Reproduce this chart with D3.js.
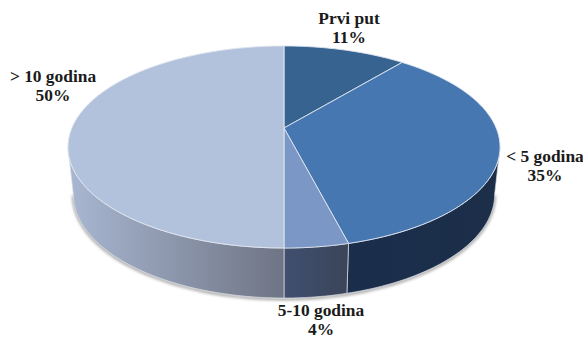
<!DOCTYPE html>
<html>
<head>
<meta charset="utf-8">
<script src="https://cdn.jsdelivr.net/npm/d3@7"></script>
<style>
html,body{margin:0;padding:0;background:#fff}
text{font-family:"Liberation Serif",serif;font-weight:700;fill:#1a1a1a;font-size:17.4px;text-anchor:middle}
</style>
</head>
<body>
<svg id="chart" width="583" height="339"></svg>
<script>
// Years of experience, share of respondents
const categories = ["Prvi put", "< 5 godina", "5-10 godina", "> 10 godina"];
const shares = [11, 35, 4, 50];
const topColors = ["#36638f", "#4677b0", "#7a97c5", "#b3c2dc"];
const wallStart = ["#1a2e4c", "#1a2e4c", "#414f70", "#a9b7d2"];
const wallEnd = ["#1c2e48", "#1c2e48", "#3a4558", "#6e7484"];
const labelSpots = [[349, 24], [545, 162], [321, 316], [53, 82]];

const svg = d3.select("#chart");
const defs = svg.append("defs");
defs.append("filter").attr("id", "soft").attr("x", "-10%").attr("y", "-10%").attr("width", "120%").attr("height", "120%")
  .append("feGaussianBlur").attr("stdDeviation", 1.4);

// Tilted disc: unit circle through a perspective projection onto the page
const cx = 284, apexY = 128, persp = -0.188, yGain = 73.4, xGain = 212.2, depth = 50, baseShrink = 0.975;
const project = a => {
  const x = Math.sin(a), y = -Math.cos(a), w = 1 + persp * y;
  return [cx + xGain * x / w, (apexY + yGain * y) / w];
};
const lower = ([x, y]) => [cx + (x - cx) * baseShrink, y + depth * (0.9 + 0.1 * (y - 46) / 202)];

const line = d3.line();
const arcs = d3.pie().sort(null)(shares);
const steps = (a0, a1) => d3.range(0, 61).map(i => a0 + (a1 - a0) * i / 60);

// Walls run between the widest points of the projected rim
const widest = Math.acos(persp);
const rimFront = (a0, a1) => {
  const from = Math.max(a0, widest), to = Math.min(a1, Math.PI * 2 - widest);
  return to > from ? steps(from, to) : null;
};

// Soft shadow hugging the base of the wall
svg.append("path")
  .attr("d", line(steps(widest, Math.PI * 2 - widest).map(a => lower(project(a))).map(([x, y]) => [x, y + 1])))
  .attr("fill", "none").attr("stroke", "#8f8f8f").attr("stroke-width", 2.2).attr("filter", "url(#soft)");

arcs.forEach((d, i) => {
  const angles = rimFront(d.startAngle, d.endAngle);
  if (!angles) return;
  const upper = angles.map(a => project(a));
  const bottom = upper.map(lower);
  const xs = upper.map(p => p[0]);
  const grad = defs.append("linearGradient").attr("id", "wall" + i)
    .attr("gradientUnits", "userSpaceOnUse")
    .attr("x1", d3.min(xs)).attr("x2", d3.max(xs)).attr("y1", 0).attr("y2", 0);
  grad.append("stop").attr("offset", 0).attr("stop-color", wallStart[i]);
  grad.append("stop").attr("offset", 1).attr("stop-color", wallEnd[i]);
  svg.append("path")
    .attr("d", line(upper.concat(bottom.reverse())) + "Z")
    .attr("fill", `url(#wall${i})`)
    .attr("stroke", "#d9dde4").attr("stroke-width", 0.7);
});

// Slice faces on top of the walls
arcs.forEach((d, i) => {
  const rim = steps(d.startAngle, d.endAngle).map(project);
  svg.append("path")
    .attr("d", line([[cx, apexY], ...rim]) + "Z")
    .attr("fill", topColors[i])
    .attr("stroke", "#dfe5ef").attr("stroke-width", 0.9).attr("stroke-linejoin", "round");
});

// Two-line labels: category, then share
const labels = svg.selectAll("g.label").data(categories).join("g").attr("class", "label")
  .attr("transform", (d, i) => `translate(${labelSpots[i]})`);
labels.append("text").text(d => d);
labels.append("text").attr("y", 19).text((d, i) => shares[i] + "%");
</script>
</body>
</html>
